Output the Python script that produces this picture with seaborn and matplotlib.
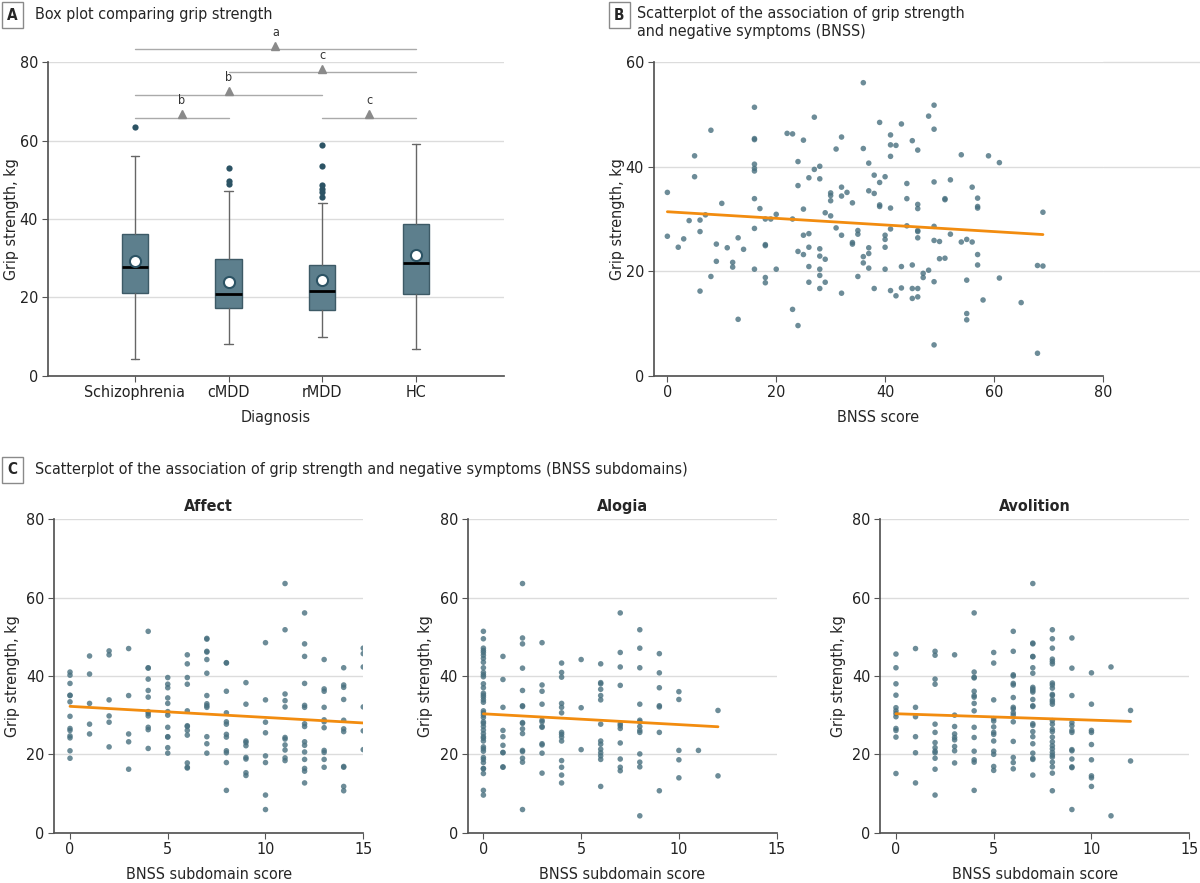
import numpy as np
import pandas as pd
import seaborn as sns
import matplotlib.pyplot as plt

# panel A: box plot summary values
groups = ['Schizophrenia', 'cMDD', 'rMDD', 'HC']
whis_low = [4.3, 8.1, 9.9, 6.8]
q1 = [21.2, 17.4, 16.9, 20.8]
median = [27.7, 20.9, 21.7, 28.7]
q3 = [36.3, 29.8, 28.2, 38.7]
whis_high = [56.2, 47.1, 44.2, 59.1]
means = [29.4, 23.9, 24.4, 30.9]
outliers = [[63.6], [52.9, 49.7, 49.0], [58.8, 53.6, 48.6, 47.7, 47.0, 45.7], []]

# significance brackets
sig_from = [0, 1, 0, 0, 2]
sig_to = [3, 3, 2, 1, 3]
sig_level = [83.3, 77.5, 71.7, 65.9, 65.9]
sig_label = ['a', 'c', 'b', 'b', 'c']

# panel B: BNSS total score vs grip strength
bnss_scores = [0, 2, 3, 4, 5, 6, 7, 8, 9, 10, 11, 12, 13, 14, 16, 17, 18, 19, 20, 22,
               23, 24, 25, 26, 27, 28, 29, 30, 31, 32, 33, 34, 35, 36, 37, 38, 39, 40,
               41, 42, 43, 44, 45, 46, 47, 48, 49, 50, 51, 52, 54, 55, 56, 57, 58, 59,
               61, 65, 68, 69]
bnss_grip = [[35.1, 26.7], [24.6], [26.2], [29.7], [42.1, 38.1], [29.8, 27.6, 16.2],
             [30.8], [47.0, 19.0], [25.2, 21.9], [33.0], [24.5], [21.7, 20.8],
             [26.4, 10.8], [24.2],
             [51.4, 45.4, 45.2, 40.5, 39.7, 39.2, 33.9, 28.2, 20.4], [32.0],
             [30.0, 25.1, 24.9, 18.8, 17.8], [30.0], [30.9, 20.4], [46.4],
             [46.3, 30.0, 12.7], [41.0, 36.4, 23.8, 9.6], [45.1, 31.9, 26.9, 23.2],
             [37.9, 27.2, 24.6, 20.9, 17.9], [49.5, 39.5],
             [40.1, 37.7, 24.3, 22.9, 20.4, 19.2, 16.7], [31.2, 22.3, 17.9],
             [35.0, 34.5, 33.5, 30.6], [43.4, 28.3], [45.7, 36.1, 34.4, 26.9, 15.8],
             [35.1], [33.1, 25.5, 25.2], [27.8, 27.1, 19.0], [56.1, 43.5, 22.8, 21.6],
             [40.7, 35.4, 24.5, 23.4, 20.6], [38.4, 34.9, 16.7], [48.5, 37.0, 32.7, 32.4],
             [38.1, 26.9, 26.1, 24.6, 20.4], [46.1, 44.2, 42.0, 32.1, 28.1, 16.3],
             [44.1, 15.3], [48.2, 20.9, 16.8], [36.8, 33.9, 28.7],
             [45.0, 21.2, 16.7, 14.8], [43.2, 32.8, 32.0, 27.8, 27.6, 26.4, 16.7, 15.1],
             [19.6, 18.8], [49.7, 20.2], [51.8, 47.2, 37.1, 28.6, 25.9, 18.0, 5.9],
             [25.7, 22.4], [33.9, 33.7, 22.5], [37.5, 27.1], [42.3, 25.6],
             [26.1, 18.3, 11.9, 10.7], [36.1, 25.6], [34.0, 32.4, 32.1, 23.2, 21.2],
             [14.5], [42.1], [40.8, 18.7], [14.0], [21.1, 4.3], [31.3, 21.0]]

# panel C: subdomain scores (index = score) vs grip strength
affect_grip = [
    [41.0, 40.2, 38.1, 35.1, 35.0, 33.4, 29.7, 26.6, 26.1, 24.7, 24.2, 20.9, 19.0],
    [45.1, 40.5, 33.0, 27.7, 25.2],
    [46.4, 45.4, 33.9, 29.8, 28.2, 21.9],
    [47.0, 35.0, 25.2, 23.2, 16.2],
    [51.4, 42.1, 42.0, 39.2, 36.3, 34.6, 30.9, 30.4, 29.8, 26.9, 26.3, 21.5],
    [39.6, 37.9, 37.0, 34.4, 33.0, 30.9, 30.0, 26.9, 24.5, 24.4, 21.7, 20.3],
    [45.4, 43.1, 39.6, 37.9, 31.1, 27.3, 27.1, 26.1, 24.9, 17.8, 16.7, 16.5],
    [49.6, 49.4, 46.3, 46.1, 44.2, 40.7, 35.0, 32.9, 32.4, 32.0, 24.5, 22.7, 20.3],
    [43.4, 43.3, 36.1, 30.6, 28.3, 27.7, 25.1, 24.4, 20.9, 20.4, 17.9, 10.8],
    [38.3, 32.8, 23.4, 23.0, 22.2, 19.2, 18.8, 15.3, 14.6],
    [48.5, 33.9, 28.2, 25.5, 19.6, 17.9, 9.6, 5.9],
    [63.6, 51.8, 35.4, 33.7, 32.1, 24.3, 23.9, 22.4, 21.1, 19.1, 18.4],
    [56.1, 48.2, 45.0, 38.1, 32.5, 32.0, 27.8, 27.1, 23.2, 22.3, 20.6, 18.7, 16.4, 15.7, 12.7],
    [44.2, 36.7, 36.1, 32.0, 28.8, 28.3, 26.8, 21.0, 20.5, 18.7, 16.7],
    [42.1, 37.7, 37.1, 34.0, 28.7, 26.5, 25.8, 16.9, 16.7, 11.8, 10.7],
    [47.1, 45.7, 42.3, 32.1, 26.0, 21.2]]

alogia_grip = [
    [51.4, 49.5, 47.1, 46.5, 46.0, 45.3, 44.5, 43.5, 42.1, 40.9, 40.3, 39.8, 38.0, 37.0,
     35.6, 35.1, 34.6, 33.9, 33.3, 31.1, 30.6, 30.0, 29.4, 28.3, 27.9, 27.1, 26.2, 25.3,
     24.5, 24.1, 23.4, 21.9, 21.4, 20.8, 19.2, 18.7, 17.9, 16.4, 16.3, 15.1, 10.8, 9.6],
    [45.0, 39.1, 32.0, 26.1, 24.5, 22.3, 20.5, 20.4, 16.8, 16.7],
    [63.6, 49.7, 48.2, 42.0, 36.3, 32.4, 32.2, 28.1, 27.9, 26.5, 25.3, 21.0, 20.7, 19.0,
     18.0, 5.9],
    [48.5, 37.7, 36.1, 32.8, 28.7, 28.3, 27.1, 26.9, 22.7, 22.4, 20.3, 15.2],
    [43.3, 40.9, 39.7, 33.0, 32.0, 30.6, 25.6, 25.1, 24.4, 23.4, 18.4, 16.7, 14.7, 12.7],
    [44.2, 31.9, 21.2],
    [43.1, 38.3, 38.0, 36.6, 35.0, 33.9, 27.7, 23.4, 22.6, 21.3, 20.4, 19.6, 18.7, 11.8],
    [56.1, 46.0, 42.3, 37.6, 27.8, 27.3, 26.6, 22.9, 18.8, 16.7, 15.8],
    [51.8, 47.1, 42.1, 32.8, 28.7, 28.3, 27.1, 26.1, 25.6, 20.1, 18.0, 16.8, 4.3],
    [45.7, 40.8, 37.0, 32.4, 32.1, 25.6, 10.7],
    [36.0, 34.0, 21.0, 18.6, 14.0],
    [21.0],
    [31.2, 14.5]]

avolition_grip = [
    [45.6, 42.1, 38.0, 35.1, 31.9, 31.1, 30.4, 29.6, 26.6, 26.1, 24.4, 15.1],
    [47.0, 32.0, 29.6, 24.5, 20.4, 12.7],
    [46.3, 45.3, 39.2, 37.9, 27.7, 25.6, 23.0, 21.7, 20.8, 20.4, 19.0, 16.2, 9.6],
    [45.4, 30.0, 27.1, 25.2, 24.3, 23.7, 22.0, 20.9, 17.8],
    [56.1, 41.0, 39.7, 39.5, 36.1, 35.0, 34.6, 33.0, 31.1, 26.9, 24.3, 20.8, 18.6, 18.0,
     10.8],
    [46.0, 43.3, 33.9, 29.1, 28.5, 27.0, 25.6, 25.1, 23.4, 20.8, 20.0, 16.9, 15.9],
    [51.4, 46.3, 40.3, 40.0, 38.1, 37.7, 34.5, 32.0, 31.6, 30.6, 30.0, 28.3, 23.3, 19.2,
     17.9, 16.3],
    [63.6, 48.4, 48.2, 45.0, 44.9, 42.1, 40.7, 37.1, 36.7, 36.3, 35.9, 34.0, 32.4, 32.2,
     27.8, 27.4, 25.8, 24.5, 22.7, 20.3, 19.0, 18.7, 14.7],
    [51.8, 49.5, 47.1, 44.3, 43.7, 43.1, 38.2, 37.7, 36.9, 35.3, 35.0, 33.9, 33.4, 32.8,
     28.6, 27.7, 26.4, 25.8, 24.4, 23.2, 22.2, 21.4, 20.5, 19.8, 19.3, 18.0, 16.8, 15.2,
     10.7],
    [49.7, 42.0, 35.0, 28.1, 27.3, 26.1, 25.6, 21.2, 20.9, 18.8, 16.8, 16.6, 5.9],
    [40.8, 32.8, 26.1, 25.6, 22.5, 18.6, 14.5, 14.0, 11.8],
    [42.3, 4.3],
    [31.2, 18.3]]


def expand(scores, grip):
    rows = [(s, g) for s, vals in zip(scores, grip) for g in vals]
    return pd.DataFrame(rows, columns=['score', 'grip'])


sns.set_theme(style='white')
plt.rcParams['font.family'] = ['DejaVu Sans']
plt.rcParams['font.stretch'] = 'condensed'
plt.rcParams['font.size'] = 11

box_color = '#5d7f8d'
dot_color = '#48707f'
dark = '#2c5364'
line_color = '#f28c0f'
grid_color = '#dcdcdc'
spine_color = '#555555'


def style_axes(ax, xlab, ylab, ylab_x):
    sns.despine(ax=ax)
    ax.spines['left'].set_color(spine_color)
    ax.spines['bottom'].set_color(spine_color)
    ax.yaxis.grid(True, color=grid_color, lw=1)
    ax.xaxis.grid(False)
    ax.set_axisbelow(True)
    ax.tick_params(axis='both', which='both', length=4, width=0.8, color=spine_color,
                   labelsize=11.5, labelcolor='#222222', pad=3, bottom=True, left=True)
    ax.set_xlabel(xlab, fontsize=11.5)
    ax.set_ylabel(ylab, fontsize=11.5)
    ax.yaxis.set_label_coords(ylab_x, 0.5)
    ax.xaxis.set_label_coords(0.5, -0.108)


fig = plt.figure(figsize=(12, 8.83), dpi=100)

# ---------------- panel A
axA = fig.add_axes([0.0398, 0.5745, 0.3803, 0.3549])
stats = []
for i in range(len(groups)):
    stats.append(dict(label=groups[i], whislo=whis_low[i], q1=q1[i], med=median[i],
                      q3=q3[i], whishi=whis_high[i], mean=means[i], fliers=outliers[i]))
axA.bxp(stats, positions=range(len(groups)), widths=0.28, capwidths=0.09,
        showmeans=True, patch_artist=True,
        boxprops=dict(facecolor=box_color, edgecolor='#3d5a66', lw=1),
        medianprops=dict(color='black', lw=2),
        whiskerprops=dict(color='#666666', lw=1),
        capprops=dict(color='#666666', lw=1),
        meanprops=dict(marker='o', markerfacecolor='white', markeredgecolor=dark,
                       markeredgewidth=1.5, markersize=8),
        flierprops=dict(marker='o', markerfacecolor=dark, markeredgecolor='none',
                        markersize=4.5))
axA.set_xlim(-0.93, 3.94)
axA.set_ylim(0, 80)
axA.set_yticks([0, 20, 40, 60, 80])
axA.set_xticks(range(len(groups)))
axA.set_xticklabels(groups)
style_axes(axA, 'Diagnosis', 'Grip strength, kg', -0.064)
for a, b, lvl, lab in zip(sig_from, sig_to, sig_level, sig_label):
    axA.plot([a, b], [lvl, lvl], color='#aaaaaa', lw=1, clip_on=False)
    mid = (a + b) / 2
    axA.plot([mid], [lvl + 0.9], marker='^', color='#8a8a8a', markersize=5.5, clip_on=False)
    axA.text(mid, lvl + 2.7, lab, ha='center', va='bottom', fontsize=9, color='#333333')

# ---------------- panel B
axB = fig.add_axes([0.5448, 0.5745, 0.3742, 0.3549])
dfB = expand(bnss_scores, bnss_grip)
sns.regplot(data=dfB, x='score', y='grip', ax=axB, ci=None, truncate=True,
            scatter_kws=dict(s=16, color=dot_color, alpha=0.8, edgecolor='none'),
            line_kws=dict(color=line_color, lw=2))
axB.set_xlim(-2.5, 80)
axB.set_ylim(0, 60)
axB.set_xticks([0, 20, 40, 60, 80])
axB.set_yticks([0, 20, 40, 60])
style_axes(axB, 'BNSS score', 'Grip strength, kg', -0.063)
# grid lines continue right of the x range
for yv in [20, 40, 60]:
    axB.plot([80, 101], [yv, yv], color=grid_color, lw=1, clip_on=False, zorder=0)

# ---------------- panel C
c_lefts = [0.0453, 0.3898, 0.7336]
c_titles = ['Affect', 'Alogia', 'Avolition']
c_data = [affect_grip, alogia_grip, avolition_grip]
for left, title, grip in zip(c_lefts, c_titles, c_data):
    ax = fig.add_axes([left, 0.0570, 0.2574, 0.3549])
    df = expand(range(len(grip)), grip)
    sns.regplot(data=df, x='score', y='grip', ax=ax, ci=None, truncate=True,
                scatter_kws=dict(s=16, color=dot_color, alpha=0.8, edgecolor='none'),
                line_kws=dict(color=line_color, lw=2))
    ax.set_xlim(-0.8, 15)
    ax.set_ylim(0, 80)
    ax.set_xticks([0, 5, 10, 15])
    ax.set_yticks([0, 20, 40, 60, 80])
    style_axes(ax, 'BNSS subdomain score', 'Grip strength, kg', -0.112)
    ax.set_title(title, fontsize=11.5, fontweight='bold', pad=6)

# ---------------- panel headers
box = dict(boxstyle='square,pad=0.35', fc='white', ec='#8a8a8a', lw=1)
fig.text(0.0105, 1 - 15 / 883, 'A', fontsize=11, fontweight='bold', va='center', ha='center', bbox=box)
fig.text(0.029, 1 - 15 / 883, 'Box plot comparing grip strength', fontsize=11.5, va='center')
fig.text(0.5162, 1 - 15 / 883, 'B', fontsize=11, fontweight='bold', va='center', ha='center', bbox=box)
fig.text(0.5308, 1 - 6 / 883, 'Scatterplot of the association of grip strength\nand negative symptoms (BNSS)',
         fontsize=11.5, va='top', linespacing=1.25)
fig.text(0.0105, 1 - 470 / 883, 'C', fontsize=11, fontweight='bold', va='center', ha='center', bbox=box)
fig.text(0.029, 1 - 470 / 883,
         'Scatterplot of the association of grip strength and negative symptoms (BNSS subdomains)',
         fontsize=11.5, va='center')

fig.savefig('out.png', dpi=100, facecolor='white')
